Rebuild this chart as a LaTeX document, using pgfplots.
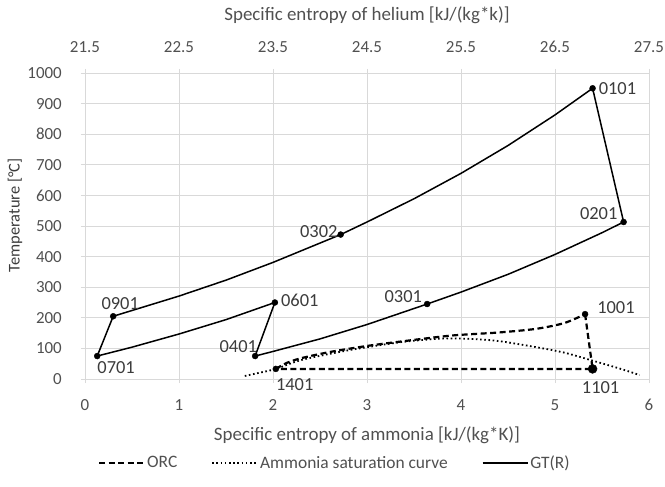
\documentclass[border=0pt]{standalone}
\usepackage{pgfplots}
\pgfplotsset{compat=1.18}
\usepackage{fontspec}
\setmainfont{Carlito}
\definecolor{gridgray}{RGB}{217,217,217}
\definecolor{tickgray}{RGB}{80,80,80}
\definecolor{lblgray}{RGB}{60,60,60}
\newcommand\tfont{\fontsize{17}{20}\selectfont}
\newcommand\afont{\fontsize{19}{22}\selectfont}
\newcommand\yfont{\fontsize{16.5}{19}\selectfont}
\newcommand\dfont{\fontsize{18.5}{22}\selectfont}
\newcommand\lfont{\fontsize{17.5}{21}\selectfont}
\pgfplotsset{legend image code/.code={\draw[#1] (0bp,0bp) -- (45bp,0bp);}}
\pgfplotsset{
  common/.style={
    scale only axis, width=564bp, height=306bp,
    at={(0,0)}, anchor=south west,
    ymin=0, ymax=1000, clip=false,
    /pgf/number format/assume math mode=true,
    /pgf/number format/1000 sep={},
    axis line style={gridgray, line width=0.8bp},
    tick style={gridgray, line width=0.8bp},
    major tick length=8bp,
    tick align=center,
    ticklabel style={font=\tfont, text=tickgray},
  }
}
\begin{document}
\begin{tikzpicture}
\path[use as bounding box] (-85bp,-108bp) rectangle (580bp,379bp);
% main (ammonia) axis
\begin{axis}[common,
  xmin=0, xmax=6,
  xtick={0,1,2,3,4,5,6},
  ytick={0,100,...,1000},
  grid=major, major grid style={gridgray, line width=0.8bp},
  axis x line*=bottom, axis y line*=left,
  xticklabel style={anchor=center, inner sep=0pt, yshift=-22bp},
  yticklabel style={anchor=east, inner sep=0pt, xshift=-19bp},
  xlabel={Specific entropy of ammonia [kJ/(kg*K)]},
  xlabel style={font=\afont, text=tickgray, at={(axis description cs:0.5,-0.183)}, anchor=center},
  ylabel={Temperature [°C]},
  ylabel style={font=\yfont, text=lblgray, at={(axis description cs:-0.124,0.535)}, anchor=center, rotate=0},
  legend style={draw=none, fill=none, at={(0.443,-0.2745)}, anchor=center,
    font=\lfont, text=tickgray, legend columns=3,
    /tikz/every even column/.append style={column sep=32bp}},
  legend cell align=left,
]
% ammonia saturation curve
\addplot[black, line width=1.8bp, dash pattern=on 1.6bp off 2.6bp, smooth, forget plot] coordinates {
(1.70,10) (1.85,20) (2.03,33) (2.3,62) (2.7,88) (3.0,104) (3.4,122) (3.8,132)
(4.1,131) (4.4,124) (4.8,104) (5.1,86) (5.4,60) (5.7,33) (5.90,13)};
% ORC
\addplot[black, line width=2.2bp, dash pattern=on 6bp off 3.5bp, smooth, forget plot] coordinates {
(2.03,33) (2.15,53) (2.3,68) (2.6,88) (3.0,108) (3.4,124) (3.9,142) (4.4,152) (4.8,164) (5.1,183) (5.32,212)};
\addplot[black, line width=2.2bp, dash pattern=on 6bp off 3.5bp, forget plot] coordinates {
(5.32,212) (5.40,33) (2.03,33)};
\addplot[only marks, mark=*, mark size=3bp, black, forget plot] coordinates {(2.03,33) (5.32,212)};
\addplot[only marks, mark=*, mark size=4.5bp, black, forget plot] coordinates {(5.40,33)};
\node[font=\dfont, text=lblgray, anchor=north west, inner sep=0pt, yshift=-9bp] at (axis cs:2.03,33) {1401};
\node[font=\dfont, text=lblgray, anchor=north, inner sep=0pt, xshift=8bp, yshift=-12bp] at (axis cs:5.40,33) {1101};
\node[font=\dfont, text=lblgray, anchor=west, inner sep=0pt, xshift=12bp, yshift=7bp] at (axis cs:5.32,212) {1001};
\addlegendimage{black, line width=2.2bp, dash pattern=on 6bp off 3.5bp}
\addlegendentry{ORC}
\addlegendimage{black, line width=1.8bp, dash pattern=on 1.6bp off 2.6bp}
\addlegendentry{Ammonia saturation curve}
\addlegendimage{black, line width=1.5bp}
\addlegendentry{GT(R)}
\end{axis}
% helium axis
\begin{axis}[common,
  xmin=21.5, xmax=27.5,
  axis x line*=top, hide y axis,
  xtick={21.5,22.5,23.5,24.5,25.5,26.5,27.5},
  xticklabels={21.5,22.5,23.5,24.5,25.5,26.5,27.5},
  xticklabel style={anchor=center, inner sep=0pt, yshift=22bp},
  xlabel={Specific entropy of helium [kJ/(kg*k)]},
  xlabel style={font=\afont, text=tickgray, at={(axis description cs:0.5,1.19)}, anchor=center},
]
\addplot[black, line width=1.5bp, line join=round] coordinates {
(26.90,950) (27.23,513) (27.0,478) (26.5,407) (26.0,342) (25.5,284) (25.14,245)
(24.5,178) (24.0,131) (23.5,90) (23.31,75) (23.52,250) (23.0,194) (22.5,147)
(22.0,104) (21.63,75) (21.80,205) (22.5,271) (23.0,323) (23.5,381) (24.22,472)
(24.5,513) (25.0,589) (25.5,672) (26.0,763) (26.5,863) (26.90,950)};
\addplot[only marks, mark=*, mark size=3bp, black] coordinates {
(26.90,950) (27.23,513) (25.14,245) (23.31,75) (23.52,250) (21.63,75) (21.80,205) (24.22,472)};
\node[font=\dfont, text=lblgray, anchor=west, inner sep=0pt, xshift=6bp] at (axis cs:26.90,950) {0101};
\node[font=\dfont, text=lblgray, anchor=east, inner sep=0pt, xshift=-6bp, yshift=8bp] at (axis cs:27.23,513) {0201};
\node[font=\dfont, text=lblgray, anchor=south east, inner sep=0pt, xshift=-3bp, yshift=-3bp] at (axis cs:24.22,472) {0302};
\node[font=\dfont, text=lblgray, anchor=east, inner sep=0pt, xshift=-5bp, yshift=7bp] at (axis cs:25.14,245) {0301};
\node[font=\dfont, text=lblgray, anchor=south, inner sep=0pt, xshift=7bp, yshift=6bp] at (axis cs:21.80,205) {0901};
\node[font=\dfont, text=lblgray, anchor=north west, inner sep=0pt, yshift=-5bp] at (axis cs:21.63,75) {0701};
\node[font=\dfont, text=lblgray, anchor=west, inner sep=0pt, xshift=6bp, yshift=2bp] at (axis cs:23.52,250) {0601};
\node[font=\dfont, text=lblgray, anchor=south east, inner sep=0pt, xshift=2bp, yshift=3bp] at (axis cs:23.31,75) {0401};
\end{axis}
\end{tikzpicture}
\end{document}
